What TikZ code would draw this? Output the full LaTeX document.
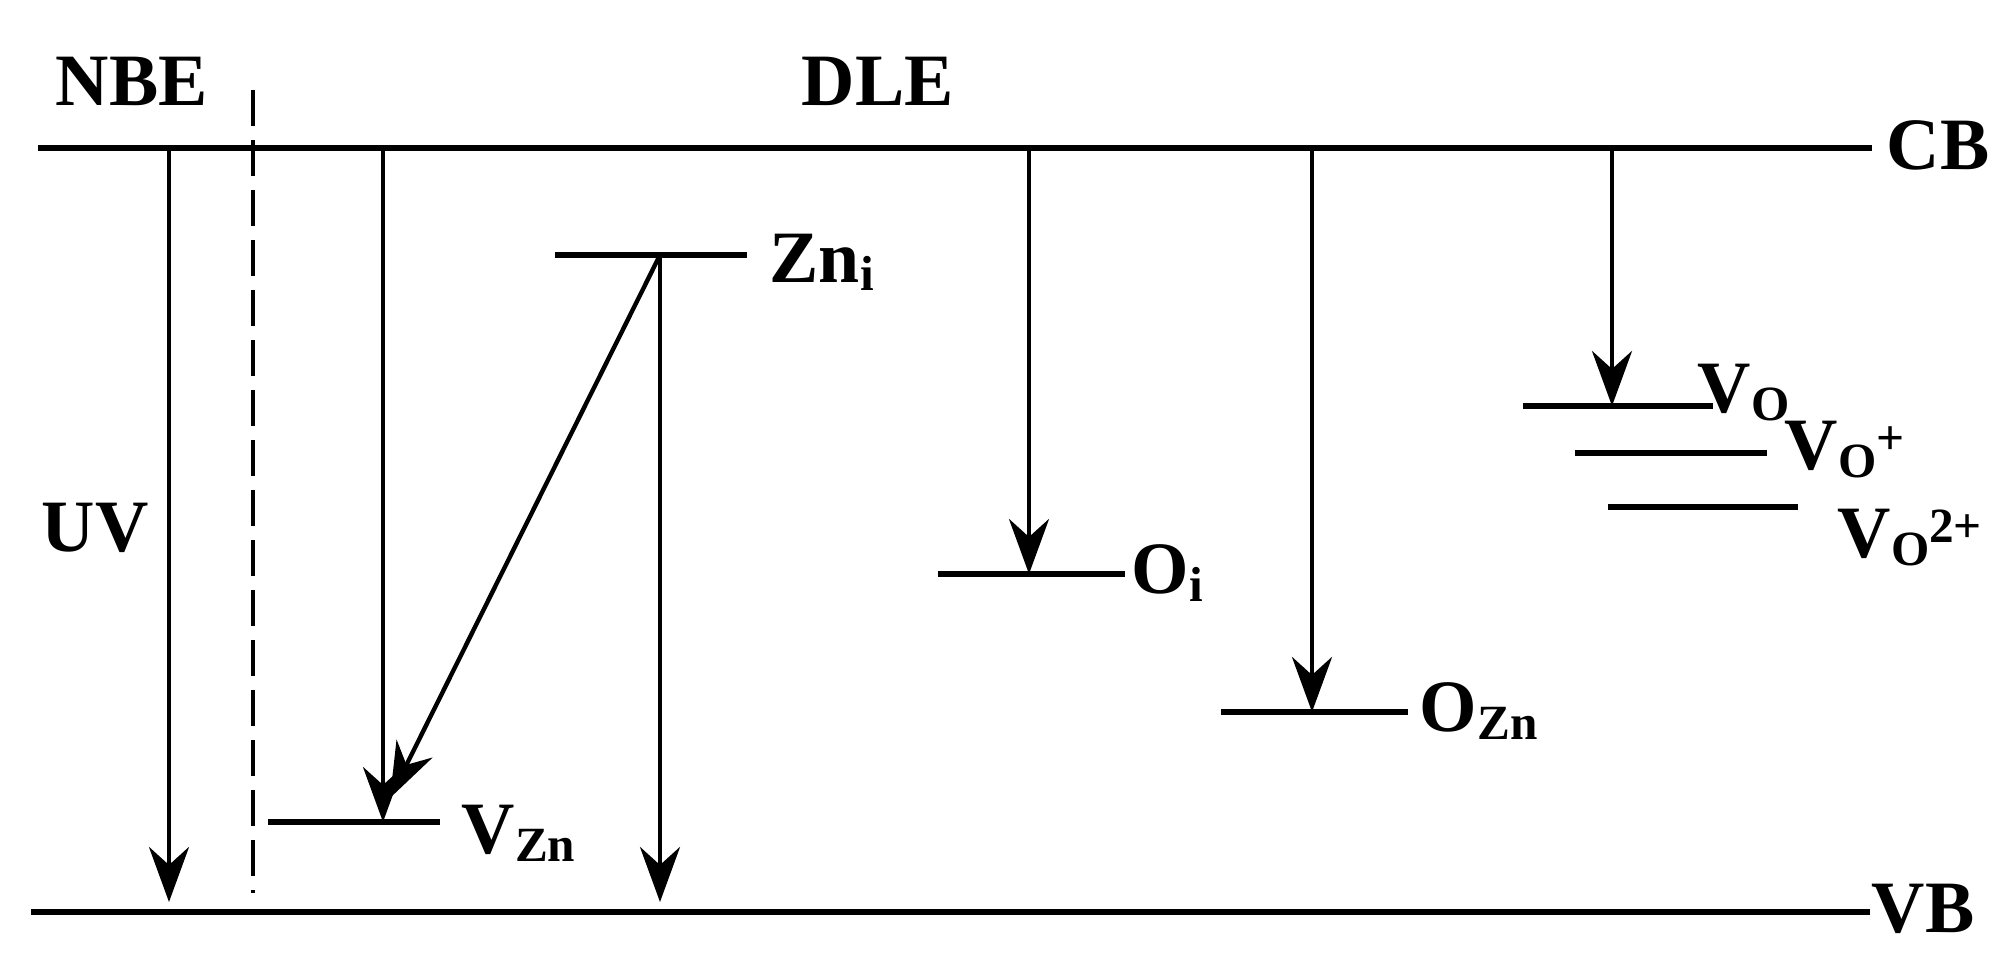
\documentclass[tikz,border=0pt]{standalone}
\usepackage{fontspec}
\setmainfont{Liberation Serif}
\usepackage{tikz}
\usetikzlibrary{arrows.meta,calc}
\newcommand{\lsub}[1]{\raisebox{-2pt}{\fontsize{14}{14}\selectfont #1}}
\newcommand{\lsup}[1]{\raisebox{4.5pt}{\fontsize{14}{14}\selectfont #1}}
\tikzset{
  band/.style={line width=1.7pt},
  lvl/.style={line width=1.6pt},
  arr/.style={-{Stealth[length=0.55cm,width=0.4cm,inset=0.18cm]},line width=1.25pt},
  sep/.style={line width=1.2pt,dash pattern=on 0.36cm off 0.14cm},
  lbl/.style={anchor=base west,inner sep=0pt,font=\fontsize{21}{25}\selectfont\bfseries}
}

\begin{document}
\begin{tikzpicture}[x=0.01cm,y=0.01cm]
  \useasboundingbox (0,0) rectangle (2015,964);

  % bands
  \coordinate (cbL) at (38,816);  \coordinate (cbR) at (1872,816);
  \coordinate (vbL) at (31,52);   \coordinate (vbR) at (1870,52);
  \draw[band] (cbL) -- (cbR);
  \draw[band] (vbL) -- (vbR);
  \node[lbl] (cb) at (1886,794) {CB};
  \node[lbl] (vb) at (1871,31) {VB};

  % defect levels
  \coordinate (zniL) at (555,709);  \coordinate (zniR) at (747,709);
  \coordinate (vznL) at (268,142);  \coordinate (vznR) at (440,142);
  \coordinate (oiL) at (938,390);   \coordinate (oiR) at (1125,390);
  \coordinate (oznL) at (1221,252); \coordinate (oznR) at (1408,252);
  \coordinate (voL) at (1523,558);  \coordinate (voR) at (1713,558);
  \coordinate (vopL) at (1575,511); \coordinate (vopR) at (1767,511);
  \coordinate (vodL) at (1608,457); \coordinate (vodR) at (1798,457);
  \foreach \l in {zni,vzn,oi,ozn,vo,vop,vod}
    \draw[lvl] (\l L) -- (\l R);

  \node[lbl] (zniT) at (769,681) {Zn\lsub{i}};
  \node[lbl] (vznT) at (461,110) {V\lsub{Zn}};
  \node[lbl] (oiT) at (1131,370) {O\lsub{i}};
  \node[lbl] (oznT) at (1419,232) {O\lsub{Zn}};
  \node[lbl] (voT) at (1697,551) {V\lsub{O}};
  \node[lbl] (vopT) at (1784,494) {V\lsub{O}\lsup{+}};
  \node[lbl] (vodT) at (1837,406) {V\lsub{O}\lsup{2+}};

  % NBE / DLE regions
  \node[lbl] (nbe) at (55,858) {NBE};
  \node[lbl] (dle) at (801,858) {DLE};
  \node[lbl] (uv) at (41,412) {UV};
  \coordinate (sepT) at (253,874); \coordinate (sepB) at (253,71);
  \draw[sep] (sepT) -- (sepB);

  % transitions
  \coordinate (uvB) at (169,62);
  \coordinate (vznA) at (383,142);
  \coordinate (zniA) at (660,709);
  \coordinate (diagB) at (390,166);
  \coordinate (zniB) at (660,62);
  \coordinate (oiA) at (1029,390);
  \coordinate (oznA) at (1312,252);
  \coordinate (voA) at (1612,558);
  \draw[arr] (uvB |- cbL) -- (uvB);
  \draw[arr] (vznA |- cbL) -- (vznA);
  \draw[arr] (zniA) -- (diagB);
  \draw[arr] (zniA) -- (zniB);
  \draw[arr] (oiA |- cbL) -- (oiA);
  \draw[arr] (oznA |- cbL) -- (oznA);
  \draw[arr] (voA |- cbL) -- (voA);
\end{tikzpicture}
\end{document}
